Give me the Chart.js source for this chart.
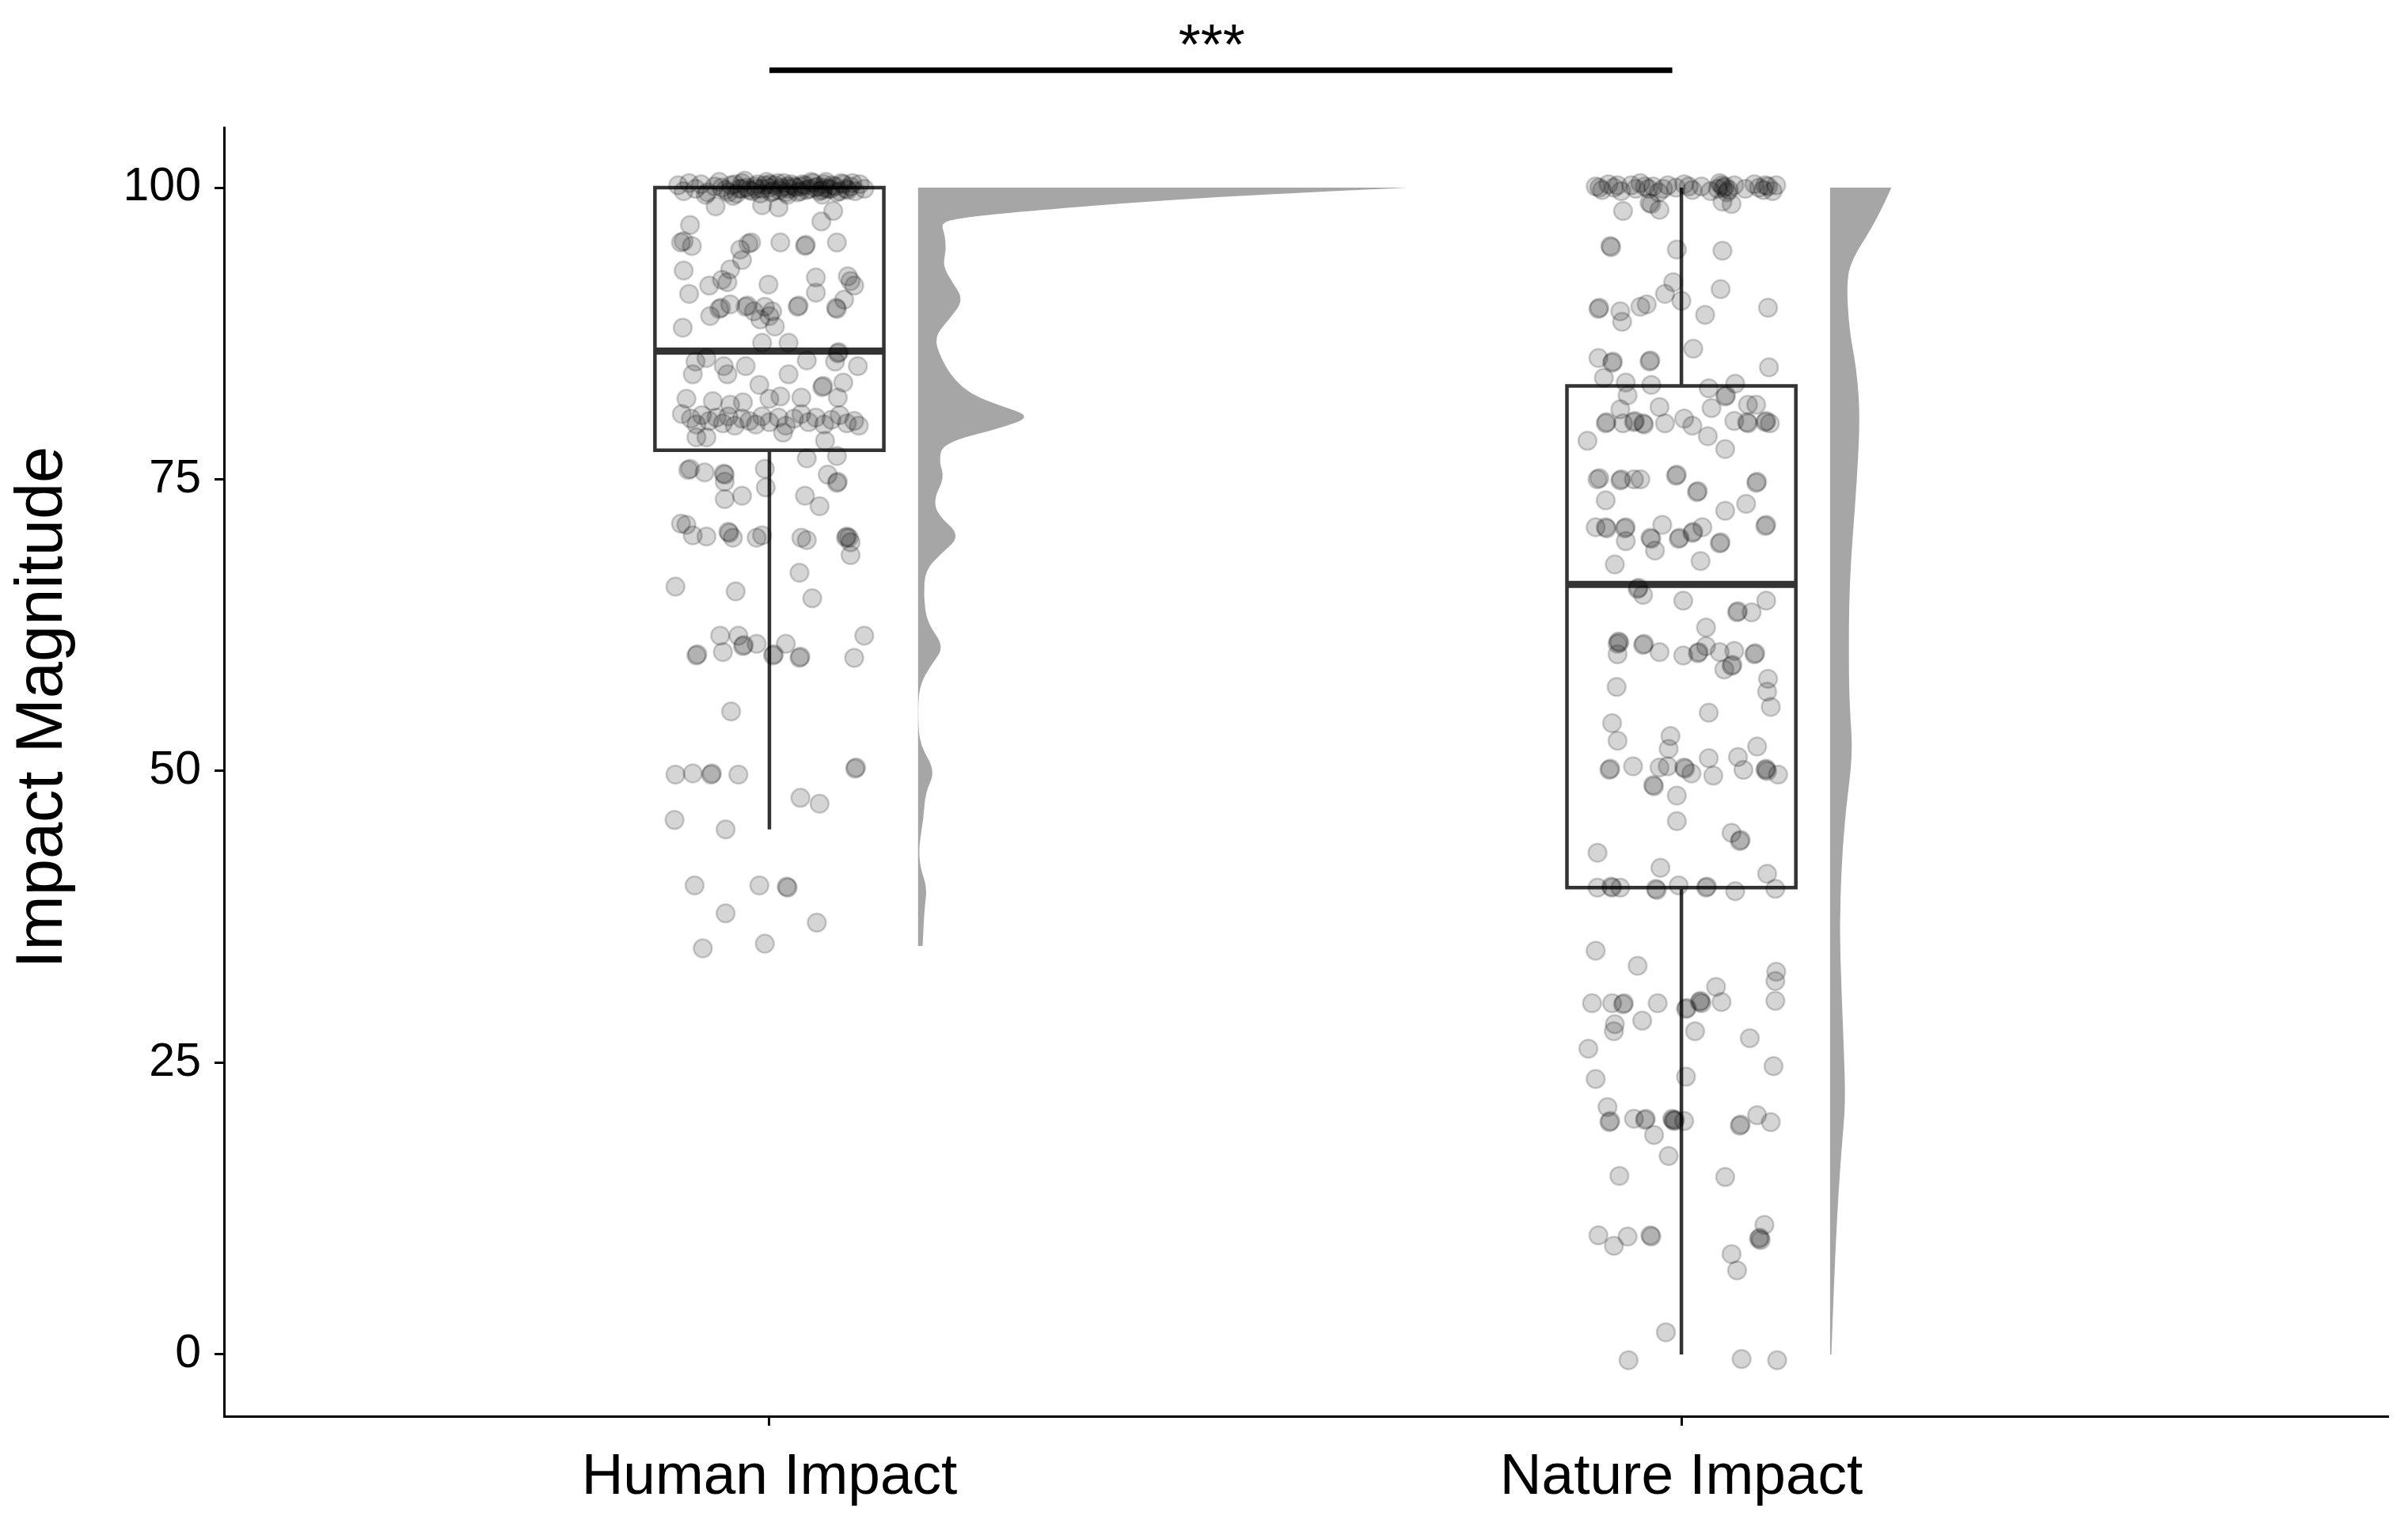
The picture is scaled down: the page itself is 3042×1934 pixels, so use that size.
<!DOCTYPE html>
<html lang="en">
<head>
<meta charset="UTF-8" />
<title>Impact Magnitude</title>
<script src="https://cdn.jsdelivr.net/npm/chart.js@4.4.1/dist/chart.umd.min.js"></script>
<style>
  body { margin: 0; background: #ffffff; }
  #chart { display: block; }
</style>
</head>
<body>
<canvas id="chart" width="3042" height="1934"></canvas>
<script>
const categories = ["Human Impact", "Nature Impact"];
const yTicks = [0, 25, 50, 75, 100];
const yTitle = "Impact Magnitude";

// [lower whisker, Q1, median, Q3, upper whisker]
const humanBox = [45, 77.5, 86, 100, 100];
const natureBox = [0, 40, 66, 83, 100];

// jittered responses: [x jitter, value]
const humanPoints = [
  [-0.100,100.2],[-0.094,99.7],[-0.088,100.4],[-0.081,99.9],[-0.075,100.3],[-0.068,99.6],[-0.060,100.1],[-0.055,100.5],
  [-0.048,99.8],[-0.042,100.2],[-0.036,99.5],[-0.030,100.4],[-0.025,100.0],[-0.019,99.7],[-0.013,100.3],[-0.008,99.9],
  [-0.003,100.5],[0.002,99.6],[0.006,100.2],[0.011,99.8],[0.016,100.4],[0.021,99.9],[0.027,100.1],[0.031,99.6],
  [0.036,100.3],[0.041,99.8],[0.046,100.5],[0.050,100.0],[0.055,99.7],[0.060,100.3],[0.064,99.9],[0.069,100.2],
  [0.074,99.6],[0.079,100.4],[0.084,99.9],[0.089,100.1],[0.094,99.7],[0.099,100.3],[0.104,99.9],[-0.070,99.4],
  [-0.040,99.3],[0.020,99.4],[0.058,99.4],
  [-0.052,100.0],[-0.045,99.6],[-0.038,100.3],[-0.033,99.9],[-0.027,100.6],[-0.022,99.8],[-0.016,100.1],[-0.010,99.5],
  [-0.005,100.2],[0.000,100.0],[0.004,99.7],[0.009,100.4],[0.013,100.0],[0.018,99.6],[0.024,100.3],[0.029,100.0],
  [0.034,99.7],[0.039,100.2],[0.044,99.9],[0.048,100.4],[0.053,100.1],[0.058,99.8],[0.062,100.5],[0.067,99.9],
  [0.072,100.1],[0.077,99.7],[0.081,100.3],[0.086,99.8],[0.091,100.4],[-0.030,99.9],[0.000,100.3],[0.035,100.1],
  [0.060,100.0],[-0.015,99.9],[0.020,100.1],
  [-0.059,98.4],[-0.008,98.5],[0.010,98.3],[0.070,98.0],[0.057,97.1],[-0.087,96.8],
  [-0.097,95.3],[-0.094,95.4],[-0.085,95.0],[-0.023,95.2],[-0.020,95.3],[-0.032,94.7],[0.012,95.3],[0.039,95.0],
  [0.040,95.1],[0.074,95.3],
  [-0.030,93.8],[-0.094,92.9],[-0.043,93.0],[-0.052,92.1],[-0.066,91.6],[-0.046,91.9],[-0.001,91.7],[0.051,92.3],
  [0.051,91.0],[0.086,92.4],[0.093,91.6],[0.089,92.0],[-0.088,90.9],
  [-0.055,89.6],[-0.053,89.7],[-0.043,90.0],[-0.026,89.8],[-0.024,89.9],[-0.017,89.4],[-0.005,89.8],[0.003,89.4],
  [-0.010,88.7],[0.000,89.0],[0.031,89.8],[0.032,89.9],[0.073,89.7],[0.074,89.6],[0.082,90.4],
  [-0.065,89.0],[-0.095,88.0],[0.006,88.1],[-0.008,86.7],[0.021,86.7],
  [-0.081,85.1],[-0.069,85.4],[-0.050,84.7],[-0.046,84.0],[-0.026,84.7],[0.021,84.0],[0.041,85.2],[0.075,85.8],
  [0.076,85.9],[0.072,85.1],[0.097,84.7],[-0.084,84.0],
  [-0.011,83.1],[0.058,82.9],[0.059,83.0],[0.081,83.3],
  [-0.091,81.9],[-0.062,81.7],[-0.043,81.4],[-0.029,81.6],[0.000,81.9],[0.012,82.1],[0.035,82.0],[0.075,82.0],
  [-0.096,80.6],[-0.086,80.2],[-0.080,79.7],[-0.074,80.5],[-0.066,80.0],[-0.058,80.3],[-0.051,79.8],[-0.045,80.4],
  [-0.038,79.6],[-0.030,80.2],[-0.022,80.0],[-0.015,79.7],[-0.008,80.4],[0.000,79.9],[0.010,80.3],[0.018,79.6],
  [0.027,80.2],[0.035,80.6],[0.043,79.9],[0.051,80.3],[0.060,79.7],[0.068,80.1],[0.077,80.5],[0.085,79.8],
  [0.093,80.0],[0.098,79.6],
  [-0.080,78.6],[-0.069,78.6],[0.015,79.0],[0.061,78.3],
  [0.041,76.8],[0.074,77.0],[-0.089,75.8],[-0.087,75.9],[-0.071,75.6],[-0.050,75.5],[-0.049,75.4],[-0.049,74.8],
  [-0.005,75.9],[-0.004,74.3],[0.064,75.4],[0.074,74.7],[0.075,74.8],[0.039,73.6],[0.055,72.7],[-0.049,73.3],
  [-0.030,73.6],
  [-0.097,71.2],[-0.091,71.1],[-0.084,70.2],[-0.069,70.1],[-0.045,70.5],[-0.044,70.4],[-0.040,70.0],[-0.014,70.0],
  [-0.008,70.2],[0.035,70.0],[0.041,69.8],[0.084,70.0],[0.085,70.1],[0.087,70.0],[0.089,69.6],
  [0.089,68.5],[0.033,67.0],[-0.103,65.8],[-0.037,65.4],[0.047,64.8],
  [-0.054,61.6],[-0.034,61.6],[-0.029,60.7],[-0.028,60.8],[-0.014,60.9],[0.018,60.9],[0.104,61.6],[-0.080,59.9],
  [-0.079,60.0],[-0.051,60.2],[0.004,59.9],[0.005,60.0],[0.033,59.7],[0.034,59.8],[0.093,59.7],
  [-0.042,55.1],
  [-0.103,49.7],[-0.084,49.8],[-0.064,49.7],[-0.063,49.8],[-0.034,49.7],[0.094,50.2],[0.095,50.3],
  [0.034,47.7],[0.055,47.2],[-0.104,45.8],[-0.048,45.0],
  [-0.082,40.2],[-0.011,40.2],[0.019,40.1],[0.020,40.0],[-0.048,37.8],[0.052,37.0],[-0.073,34.8],[-0.005,35.2]
];

const naturePoints = [
  [-0.094,100.1],[-0.087,99.8],[-0.080,100.3],[-0.074,100.0],[-0.066,99.7],[-0.055,100.2],[-0.045,100.4],[-0.036,99.9],
  [-0.031,100.1],[-0.025,99.6],[-0.015,100.2],[-0.006,100.0],[0.003,100.3],[0.012,99.8],[0.022,100.1],[0.032,99.7],
  [0.042,100.4],[0.046,100.0],[0.050,99.6],[0.058,100.2],[0.070,99.9],[0.080,100.3],[0.090,99.8],[0.095,100.1],
  [0.100,99.7],[0.104,100.2],
  [-0.090,100.0],[-0.070,100.2],[-0.050,99.9],[-0.040,100.1],[-0.020,99.9],[0.008,100.1],[0.040,99.9],[0.044,100.2],
  [0.048,100.1],[0.052,99.8],[0.085,100.0],[0.092,100.2],
  [-0.064,98.0],[-0.033,98.6],[-0.035,98.7],[-0.024,98.1],[0.045,98.8],[0.055,98.6],
  [-0.077,94.9],[-0.078,95.0],[-0.005,94.7],[0.045,94.6],
  [-0.009,91.9],[-0.018,90.9],[0.000,90.3],[0.043,91.3],
  [-0.091,89.6],[-0.090,89.7],[-0.067,89.4],[-0.065,88.5],[-0.045,89.8],[-0.038,90.0],[0.095,89.7],[0.026,89.1],
  [0.013,86.2],
  [-0.091,85.4],[-0.076,85.0],[-0.075,85.1],[-0.035,85.1],[-0.034,85.2],[-0.085,83.7],[-0.061,83.3],[-0.033,83.1],
  [0.096,84.6],
  [0.030,82.8],[0.059,83.2],[0.048,82.1],[0.049,82.2],[0.073,81.4],[0.082,81.4],[-0.059,82.2],[-0.067,81.0],
  [-0.024,81.2],[0.033,81.1],
  [-0.083,79.8],[-0.082,79.9],[-0.064,79.8],[-0.052,79.9],[-0.051,80.0],[-0.042,79.8],[-0.041,79.7],[-0.018,79.8],
  [0.003,80.2],[0.012,79.6],[0.058,80.0],[0.072,79.9],[0.073,79.8],[0.093,80.0],[0.092,79.9],[0.097,79.8],
  [-0.103,78.3],[0.029,78.7],[0.048,77.6],
  [-0.092,75.0],[-0.090,75.1],[-0.067,74.9],[-0.066,75.0],[-0.052,75.0],[-0.045,75.0],[-0.006,75.3],[-0.005,75.4],
  [0.017,73.9],[0.018,74.0],[-0.083,73.2],[0.082,74.7],[0.083,74.8],[0.071,72.9],[0.048,72.3],
  [-0.094,70.9],[-0.082,70.8],[-0.083,70.9],[-0.062,70.8],[-0.061,70.9],[-0.061,69.7],[-0.033,69.9],[-0.034,70.0],
  [-0.021,71.1],[-0.003,69.9],[-0.002,70.0],[0.012,70.4],[0.013,70.5],[0.023,70.9],[0.042,69.5],[0.043,69.6],
  [0.092,71.0],[0.093,71.1],[-0.029,68.9],[-0.073,67.7],[0.021,68.0],
  [-0.048,65.6],[-0.047,65.7],[-0.042,65.1],[0.002,64.6],[0.061,63.6],[0.062,63.7],[0.077,63.6],[0.093,64.6],
  [0.027,62.3],
  [-0.068,61.0],[-0.069,61.1],[-0.070,60.9],[-0.070,60.0],[-0.042,60.8],[-0.041,60.9],[-0.024,60.2],[0.002,59.9],
  [0.018,60.1],[0.019,60.2],[0.027,60.7],[0.042,60.2],[0.058,60.3],[0.055,59.0],[0.056,59.1],[0.047,58.7],
  [0.080,60.0],[0.081,60.1],
  [0.095,57.9],[0.094,56.8],[0.098,55.5],[-0.071,57.2],[0.030,55.0],[-0.076,54.1],[-0.070,52.6],[-0.012,53.0],
  [-0.014,51.9],
  [-0.079,50.1],[-0.078,50.2],[-0.053,50.4],[-0.024,50.3],[-0.015,50.4],[0.003,50.3],[0.004,50.2],[0.011,49.8],
  [0.030,51.1],[0.035,49.6],[0.062,51.2],[0.068,50.1],[0.083,52.1],[0.092,50.1],[0.093,50.2],[0.094,50.0],
  [0.106,49.7],
  [-0.030,48.7],[-0.031,48.8],[-0.005,47.9],[-0.005,45.7],[0.055,44.7],[0.064,44.0],[0.065,44.1],[-0.092,43.0],
  [-0.023,41.7],[0.094,41.2],
  [-0.092,40.0],[-0.076,40.0],[-0.077,40.1],[-0.067,40.0],[-0.027,39.8],[-0.028,39.9],[-0.003,40.2],[0.027,40.0],
  [0.028,40.1],[0.059,39.7],[0.103,39.9],
  [-0.094,34.6],[-0.048,33.3],[0.104,32.8],
  [-0.098,30.1],[-0.076,30.1],[-0.064,30.0],[-0.063,30.1],[-0.026,30.1],[0.005,29.6],[0.006,29.7],[0.020,30.2],
  [0.021,30.3],[0.022,30.1],[0.044,30.2],[0.038,31.5],[0.103,30.3],[0.103,32.0],
  [-0.074,27.7],[-0.073,28.3],[-0.043,28.6],[0.015,27.7],[-0.102,26.2],[0.075,27.1],[0.101,24.7],[-0.094,23.6],
  [0.005,23.8],[-0.081,21.2],
  [-0.079,19.9],[-0.078,20.0],[-0.052,20.2],[-0.039,20.2],[-0.040,20.1],[-0.030,18.8],[-0.010,20.2],[-0.009,20.1],
  [-0.008,20.0],[-0.007,20.1],[0.003,20.0],[0.064,19.6],[0.065,19.7],[0.083,20.5],[0.098,19.9],
  [-0.014,17.0],[-0.068,15.3],[0.048,15.2],
  [-0.091,10.2],[-0.059,10.1],[-0.074,9.3],[-0.033,10.1],[-0.034,10.2],[0.091,11.1],[0.085,9.9],[0.086,10.0],
  [0.087,9.8],[0.055,8.6],[0.061,7.2],
  [-0.017,1.9],[-0.058,-0.5],[0.066,-0.4],[0.105,-0.5]
];

// half-violin density profiles (value, width in category units)
const humanDensityY = [100, 99.68, 99.23, 98.64, 97.87, 97.4, 96.96, 96.05, 94.69, 93.33, 91.97, 90.38, 88.79, 87.2,
  85.38, 83.57, 82.21, 81.3, 80.39, 79.48, 78.12, 76.53, 75.17, 73.36, 71.99, 70.18, 68.59, 67.23, 64.96,
  62.69, 60.65, 59.06, 57.24, 54.52, 52.25, 49.98, 48.16, 45.89, 43.62, 41.81, 39.99, 38.18, 35];
const humanDensityW = [0.537, 0.452, 0.336, 0.219, 0.103, 0.045, 0.025, 0.029, 0.031, 0.027, 0.037, 0.05, 0.035, 0.0175,
  0.025, 0.039, 0.06, 0.091, 0.124, 0.095, 0.027, 0.023, 0.029, 0.0175, 0.021, 0.047, 0.025, 0.008, 0.006,
  0.01, 0.029, 0.014, 0.001, 0, 0.002, 0.019, 0.008, 0.006, 0.001, 0.002, 0.01, 0.007, 0.005];
const natureDensityY = [100, 97.3, 93.9, 91.9, 87.8, 84.5, 80.4, 74.3, 66.2, 58.8, 55.4, 51.4, 46.6, 41.9, 36.5,
  31.1, 26.4, 21.6, 17.6, 12.8, 6.8, 0];
const natureDensityW = [0.0673, 0.052, 0.024, 0.018, 0.021, 0.029, 0.033, 0.029, 0.021, 0.0205, 0.0216, 0.025,
  0.017, 0.0126, 0.0104, 0.0126, 0.015, 0.017, 0.0126, 0.0084, 0.0047, 0.0014];

// significance bracket
const sigPair = [1, 1.99];
const sigLevel = 110.07;
const sigLabel = "***";
const sigLabelAt = [1.485, 110.6];

const BOX_HALF = 0.1255;
const VIOLIN_OFFSET = 0.163;
const FONT = '"Liberation Sans", Arial, sans-serif';

function lineSet(data, width, cap) {
  return {
    data: data,
    showLine: true,
    borderColor: "#333333",
    borderWidth: width,
    borderCapStyle: cap || "square",
    borderJoinStyle: "miter",
    pointRadius: 0,
    pointHoverRadius: 0,
    fill: false,
    tension: 0,
    order: 1,
  };
}

function boxSets(center, s) {
  const [lo, q1, med, q3, hi] = s;
  const l = center - BOX_HALF, r = center + BOX_HALF;
  return [
    lineSet([{x: l, y: q1}, {x: r, y: q1}, {x: r, y: q3}, {x: l, y: q3}, {x: l, y: q1}], 4.5),
    lineSet([{x: l, y: med}, {x: r, y: med}], 9, "butt"),
    lineSet([{x: center, y: lo}, {x: center, y: q1}], 4.5, "butt"),
    lineSet([{x: center, y: q3}, {x: center, y: hi}], 4.5, "butt"),
  ];
}

function violinSet(center, ys, ws) {
  const base = center + VIOLIN_OFFSET;
  const pts = ys.map((y, i) => ({x: base + ws[i], y: y}));
  pts.push({x: base, y: ys[ys.length - 1]}, {x: base, y: ys[0]});
  return {
    data: pts,
    violin: true,
    curveCount: ys.length,
    backgroundColor: "rgb(166,166,166)",
    showLine: false,
    pointRadius: 0,
    pointHoverRadius: 0,
    order: 3,
  };
}

function pointSet(center, pts) {
  return {
    data: pts.map(p => ({x: center + p[0], y: p[1]})),
    showLine: false,
    pointRadius: 11.5,
    pointHoverRadius: 11.5,
    pointBorderWidth: 2.5,
    pointBackgroundColor: "rgba(0,0,0,0.165)",
    pointBorderColor: "rgba(0,0,0,0.18)",
    order: 0,
  };
}

// fills the half-violins under everything else
const violinFill = {
  id: "violinFill",
  beforeDatasetsDraw(chart) {
    const ctx = chart.ctx;
    chart.data.datasets.forEach((ds, i) => {
      if (!ds.violin) return;
      const p = chart.getDatasetMeta(i).data;
      const n = ds.curveCount;
      ctx.save();
      ctx.beginPath();
      ctx.moveTo(p[0].x, p[0].y);
      for (let k = 1; k < n - 1; k++) {
        ctx.quadraticCurveTo(p[k].x, p[k].y, (p[k].x + p[k + 1].x) / 2, (p[k].y + p[k + 1].y) / 2);
      }
      ctx.lineTo(p[n - 1].x, p[n - 1].y);
      for (let k = n; k < p.length; k++) ctx.lineTo(p[k].x, p[k].y);
      ctx.closePath();
      ctx.fillStyle = ds.backgroundColor;
      ctx.fill();
      ctx.restore();
    });
  },
};

const labels = {
  id: "labels",
  afterDraw(chart) {
    const {ctx, chartArea, scales} = chart;
    ctx.save();
    ctx.fillStyle = "#000";
    ctx.textAlign = "center";
    ctx.font = "72px " + FONT;
    ctx.textBaseline = "alphabetic";
    ctx.fillText(sigLabel, scales.x.getPixelForValue(sigLabelAt[0]), scales.y.getPixelForValue(sigLabelAt[1]));
    ctx.translate(55, chartArea.top + (chartArea.bottom - chartArea.top) * 0.45);
    ctx.rotate(-Math.PI / 2);
    ctx.font = "83px " + FONT;
    ctx.textBaseline = "middle";
    ctx.fillText(yTitle, 0, 0);
    ctx.restore();
  },
};

const datasets = [
  pointSet(1, humanPoints),
  pointSet(2, naturePoints),
  ...boxSets(1, humanBox),
  ...boxSets(2, natureBox),
  violinSet(1, humanDensityY, humanDensityW),
  violinSet(2, natureDensityY, natureDensityW),
  Object.assign(lineSet([{x: sigPair[0], y: sigLevel}, {x: sigPair[1], y: sigLevel}], 7, "butt"), {
    borderColor: "#000000",
    clip: false,
  }),
];

new Chart(document.getElementById("chart").getContext("2d"), {
  type: "line",
  data: {datasets: datasets},
  options: {
    responsive: false,
    animation: false,
    events: [],
    layout: {padding: {top: 161, right: 25, left: 0, bottom: 0}},
    plugins: {legend: {display: false}, tooltip: {enabled: false}},
    scales: {
      x: {
        type: "linear",
        min: 0.402,
        max: 2.775,
        afterBuildTicks: s => { s.ticks = categories.map((c, i) => ({value: i + 1})); },
        afterFit: s => { s.height = 145; },
        ticks: {
          callback: v => categories[v - 1],
          color: "#000",
          font: {family: FONT, size: 73},
          padding: 22,
          maxRotation: 0,
          autoSkip: false,
        },
        grid: {drawOnChartArea: false, drawTicks: true, tickLength: 12, tickColor: "#000", tickWidth: 3},
        border: {display: true, color: "#000", width: 3},
      },
      y: {
        type: "linear",
        min: -5.3,
        max: 105.16,
        afterBuildTicks: s => { s.ticks = yTicks.map(v => ({value: v})); },
        afterFit: s => { s.width = 283; },
        ticks: {
          callback: v => String(v),
          color: "#000",
          font: {family: FONT, size: 59},
          padding: 17,
        },
        grid: {drawOnChartArea: false, drawTicks: true, tickLength: 12, tickColor: "#000", tickWidth: 3},
        border: {display: true, color: "#000", width: 3},
      },
    },
  },
  plugins: [violinFill, labels],
});
</script>
</body>
</html>
